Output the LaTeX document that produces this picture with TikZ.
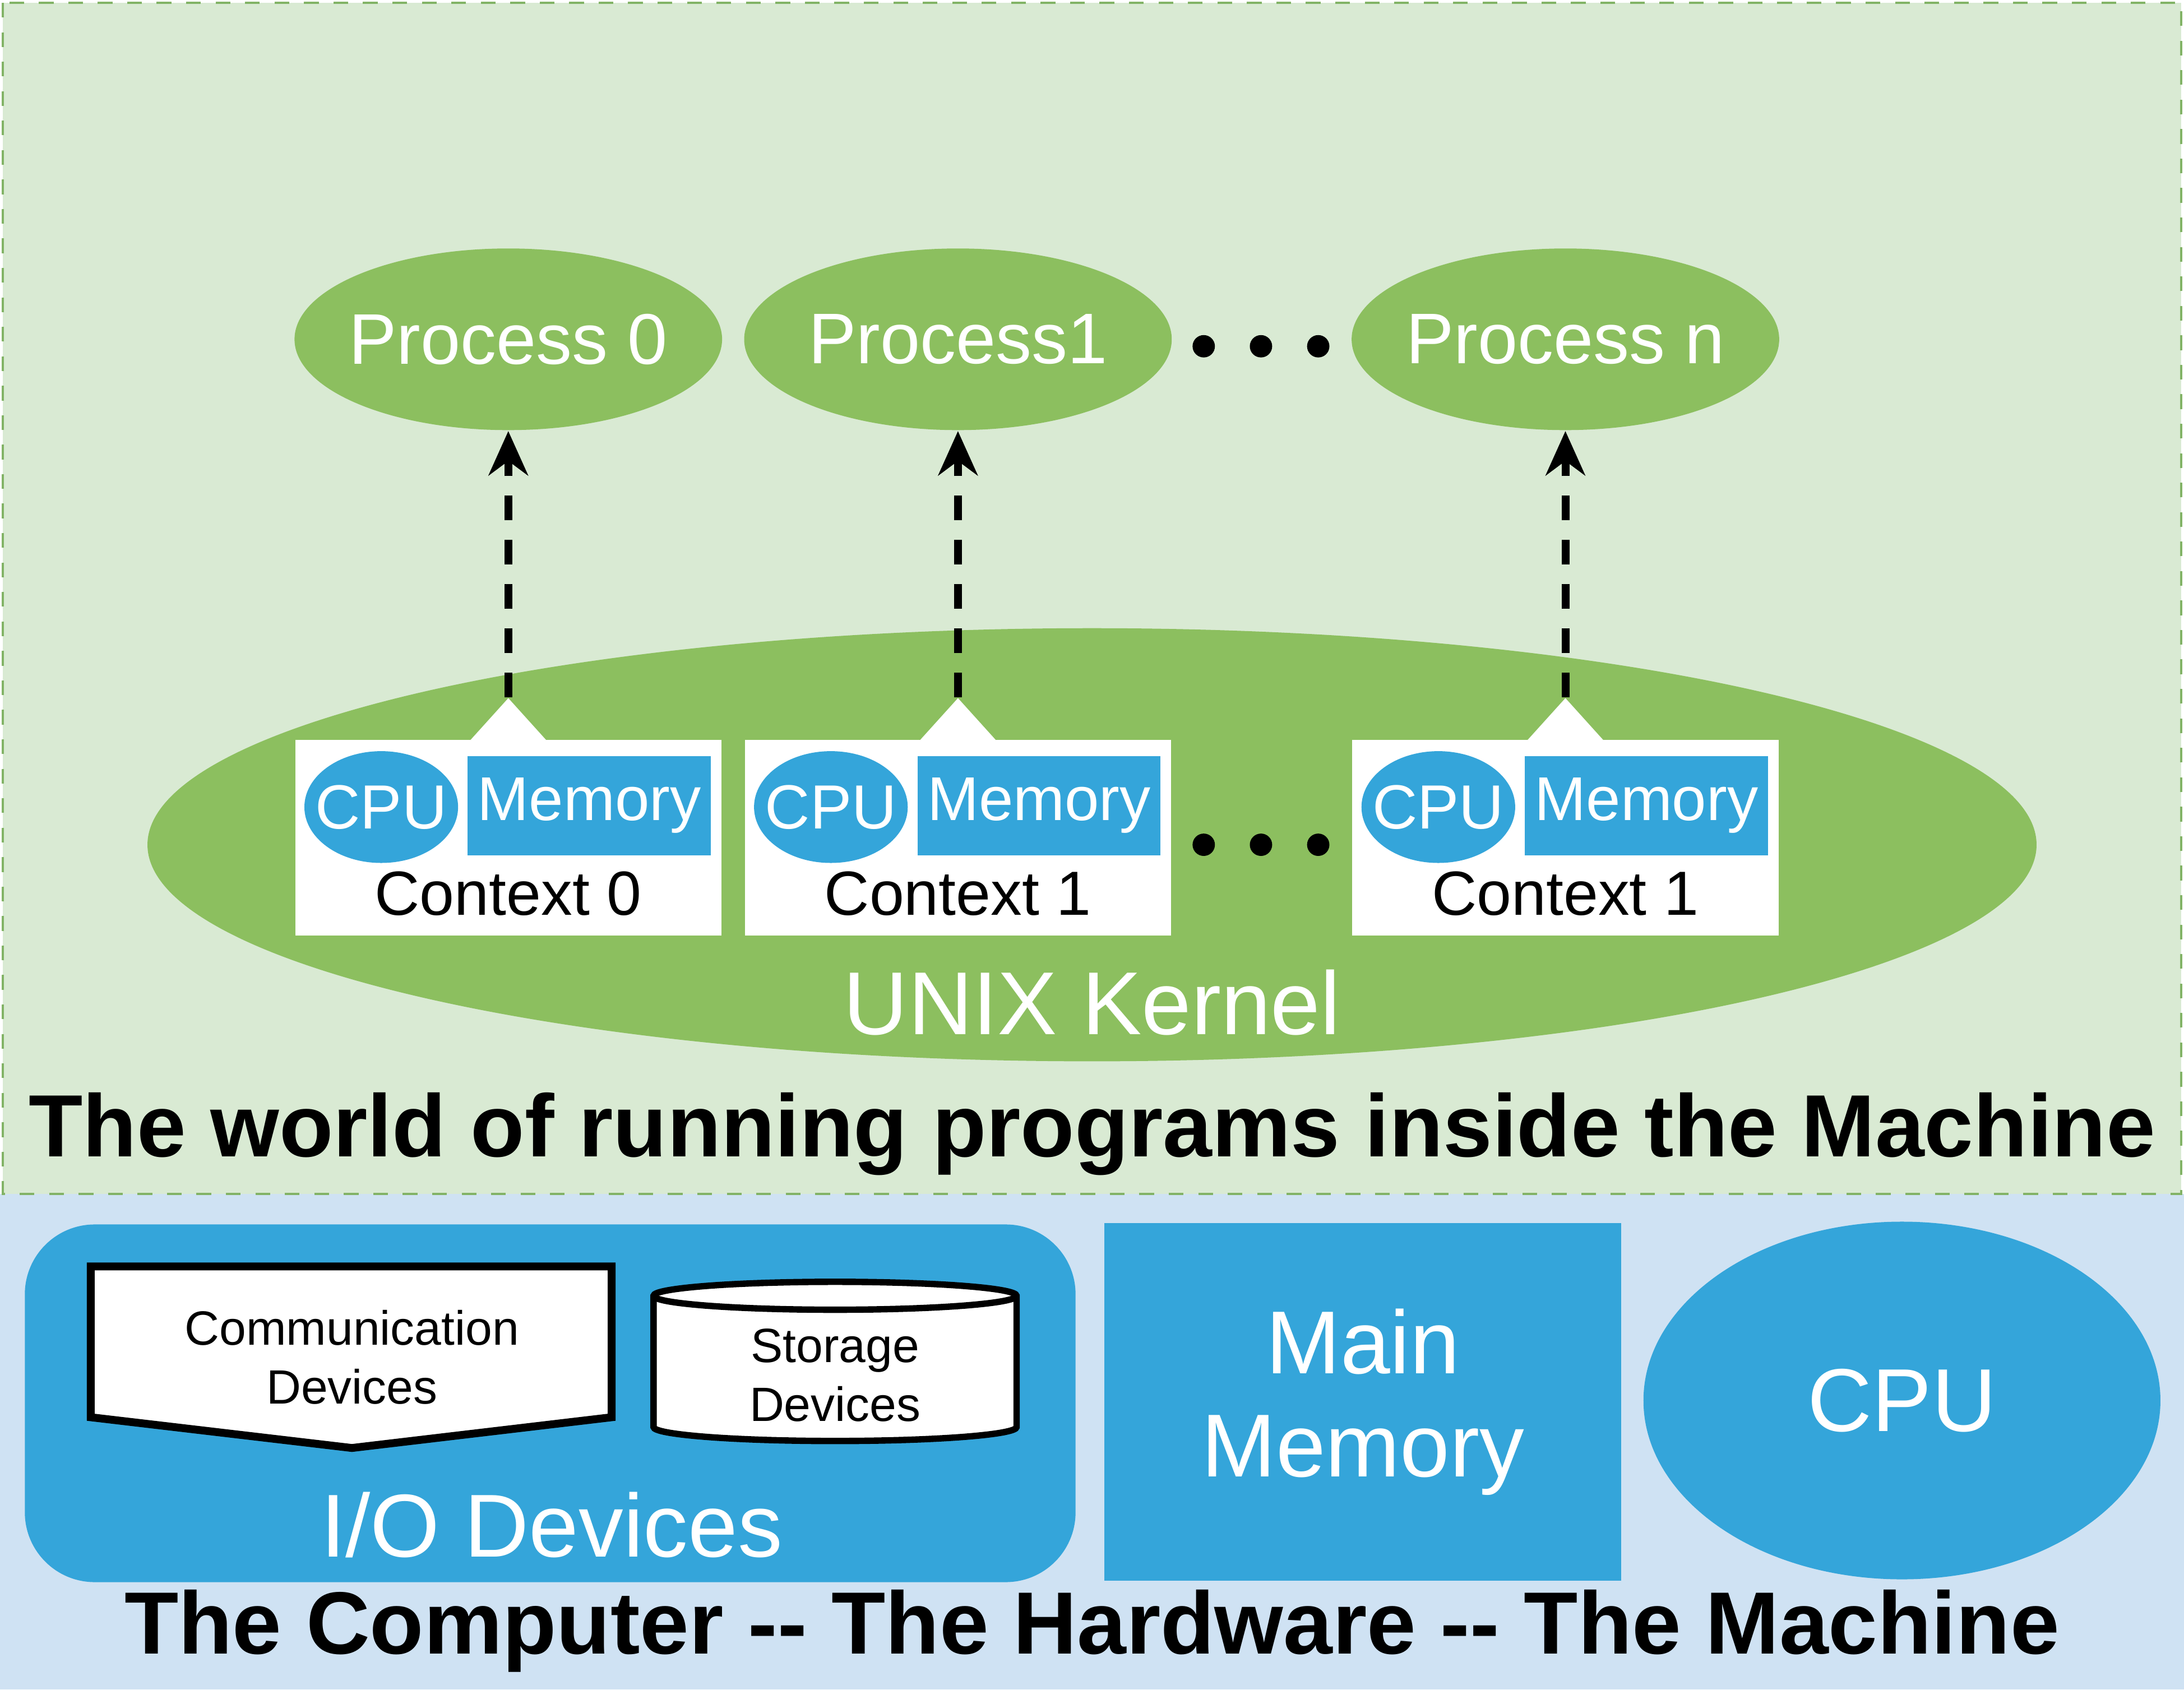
\documentclass[tikz,border=0pt]{standalone}
\usepackage{fontspec}
\setmainfont{Liberation Sans}
\usepackage{tikz}
\usetikzlibrary{shapes.geometric,arrows.meta,positioning}
\definecolor{mygreenbg}{RGB}{217,234,211}
\definecolor{mygreen}{RGB}{140,191,95}
\definecolor{mygreenline}{RGB}{130,179,102}
\definecolor{mybluebg}{RGB}{207,226,243}
\definecolor{myblue}{RGB}{52,165,218}
\begin{document}
\begin{tikzpicture}[
  x=0.01cm, y=-0.01cm,
  proc/.style={ellipse, fill=mygreen, text=white, minimum width=3.06cm,
    minimum height=1.3cm, inner xsep=-12pt, inner ysep=0pt, font=\fontsize{14.6}{17}\selectfont},
  ctx/.style={fill=white, minimum width=3.05cm, minimum height=1.4cm, inner sep=0pt},
  cpusm/.style={ellipse, fill=myblue, text=white, minimum width=1.1cm,
    minimum height=0.8cm, inner xsep=-5pt, inner ysep=0pt, font=\fontsize{12.7}{15}\selectfont},
  memsm/.style={fill=myblue, text=white, minimum width=1.74cm,
    minimum height=0.71cm, inner sep=0pt, font=\fontsize{12.6}{15}\selectfont},
  dasharrow/.style={line width=1.6pt, dash pattern=on 5pt off 4pt,
    -{Stealth[length=9pt,width=8pt]}},
  bigwhite/.style={text=white, font=\fontsize{18.2}{21}\selectfont, align=center},
  title/.style={font=\fontsize{18}{21}\selectfont\bfseries}
]
\useasboundingbox (0,0) rectangle (1564,1210);
% regions
\fill[mybluebg] (0,855) rectangle (1564,1210);
\draw[mygreenline, fill=mygreenbg, dashed] (2,2) rectangle (1562,855);

% kernel
\node[ellipse, fill=mygreen, minimum width=13.52cm, minimum height=3.1cm] (kernel) at (782,605) {};
\node[bigwhite] (kname) at (782,718) {UNIX Kernel};

% processes
\node[proc] (p0) at (364,243) {Process 0};
\node[proc] (p1) at (686,243) {Process1};
\node[proc] (pn) at (1121,243) {Process n};
\foreach \dx in {862,903,944} {
  \fill (\dx,248) circle (0.08cm);
  \fill (\dx,605) circle (0.08cm);
}

% contexts
\foreach \name/\cx/\lab in {c0/364/Context 0, c1/686/Context 1, cn/1121/Context 1} {
  \node[ctx] (\name) at (\cx,600) {};
  \fill[white] (\cx-28,531) -- (\cx,500) -- (\cx+28,531) -- cycle;
  \node[cpusm] (\name cpu) at (\cx-91,578) {CPU};
  \node[memsm] (\name mem) at (\cx+58,577) {Memory};
  \node[font=\fontsize{12.7}{15}\selectfont] (\name lab) at (\cx,640) {\lab};
}

% arrows
\draw[dasharrow] ([yshift=3mm]c0.north) -- (p0.south);
\draw[dasharrow] ([yshift=3mm]c1.north) -- (p1.south);
\draw[dasharrow] ([yshift=3mm]cn.north) -- (pn.south);

\node[title] (worldtitle) at (782,812) {The world of running programs inside the Machine};

% hardware
\node[fill=myblue, rounded corners=0.5cm, minimum width=7.52cm, minimum height=2.56cm] (io) at (394,1005) {};
\draw[line width=1.6pt, fill=white] (65,907) -- (438,907) -- (438,1015) -- (252,1037) -- (65,1015) -- cycle;
\node[align=center, font=\fontsize{9.8}{12}\selectfont] (comm) at (252,972) {Communication\\Devices};
\draw[line width=1.3pt, fill=white] (468,928) -- (468,1022) arc[start angle=180, end angle=0, x radius=130, y radius=10]
  -- (728,928) arc[start angle=0, end angle=-180, x radius=130, y radius=10] -- cycle;
\draw[line width=1.3pt] (468,928) arc[start angle=180, end angle=0, x radius=130, y radius=10];
\node[align=center, font=\fontsize{9.8}{12}\selectfont] (stor) at (598,985) {Storage\\Devices};
\node[bigwhite] (ioname) at (395,1092) {I/O Devices};

\node[fill=myblue, minimum width=3.7cm, minimum height=2.56cm, bigwhite] (mem) at (976,1004) {Main\\Memory};
\node[ellipse, fill=myblue, minimum width=3.7cm, minimum height=2.56cm, bigwhite] (cpu) at (1362,1003) {CPU};

\node[title] (hwtitle) at (782,1168) {The Computer {-}{-} The Hardware {-}{-} The Machine};
\end{tikzpicture}
\end{document}
